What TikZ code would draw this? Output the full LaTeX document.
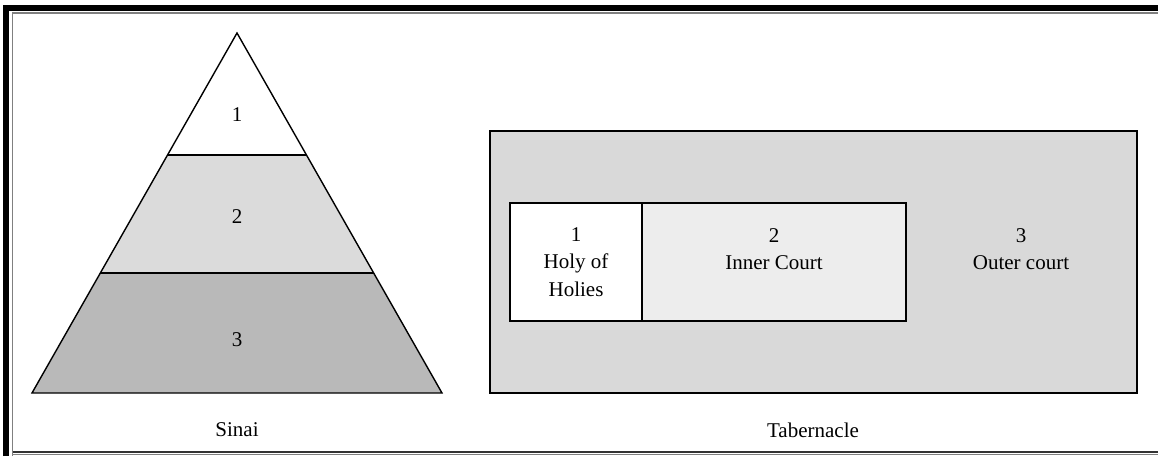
\documentclass[tikz,border=0pt]{standalone}
\usepackage{fontspec}
\setmainfont{Liberation Serif}
\begin{document}
\begin{tikzpicture}[x=0.5pt,y=-0.5pt,
    lbl/.style={font=\fontsize{10.5}{13.6}\selectfont,align=center,inner sep=0pt},
    part/.style={draw=black,line width=0.7pt}]
  \useasboundingbox (0,0) rectangle (1158,456);
  % frame
  \draw[line width=3pt,black] (6,456) -- (6,8) -- (1158,8);
  \draw[line width=0.6pt,gray] (12.5,456) -- (12.5,13) -- (1158,13);
  \draw[line width=0.6pt,black!80] (12.5,452) -- (1158,452);
  \draw[line width=0.6pt,gray] (12.5,454.5) -- (1158,454.5);
  % Sinai
  \coordinate (apex) at (237,33);
  \coordinate (bl) at (32,393);
  \coordinate (br) at (442,393);
  \pgfmathsetmacro\ya{155}
  \pgfmathsetmacro\yb{273}
  \pgfmathsetmacro\wa{(\ya-33)/360*205}
  \pgfmathsetmacro\wb{(\yb-33)/360*205}
  \fill[gray!55] (237-\wb,\yb) -- (237+\wb,\yb) -- (br) -- (bl) -- cycle;
  \fill[gray!28] (237-\wa,\ya) -- (237+\wa,\ya) -- (237+\wb,\yb) -- (237-\wb,\yb) -- cycle;
  \draw[part] (237-\wa,\ya) -- (237+\wa,\ya);
  \draw[part] (237-\wb,\yb) -- (237+\wb,\yb);
  \draw[part,line join=miter] (apex) -- (br) -- (bl) -- cycle;
  \node[lbl] (s1) at (237,115) {1};
  \node[lbl] (s2) at (237,217) {2};
  \node[lbl] (s3) at (237,340) {3};
  \node[lbl] (sinai) at (237,430) {Sinai};
  % Tabernacle
  \draw[part,fill=gray!30] (490,131) rectangle (1137,393);
  \draw[part,fill=white] (510,203) rectangle (642,321);
  \draw[part,fill=gray!14] (642,203) rectangle (906,321);
  \node[lbl] (holy) at (576,262) {1\\Holy of\\Holies};
  \node[lbl] (inner) at (774,249) {2\\Inner Court};
  \node[lbl] (outer) at (1021,249) {3\\Outer court};
  \node[lbl] (tab) at (813,430) {Tabernacle};
\end{tikzpicture}
\end{document}
